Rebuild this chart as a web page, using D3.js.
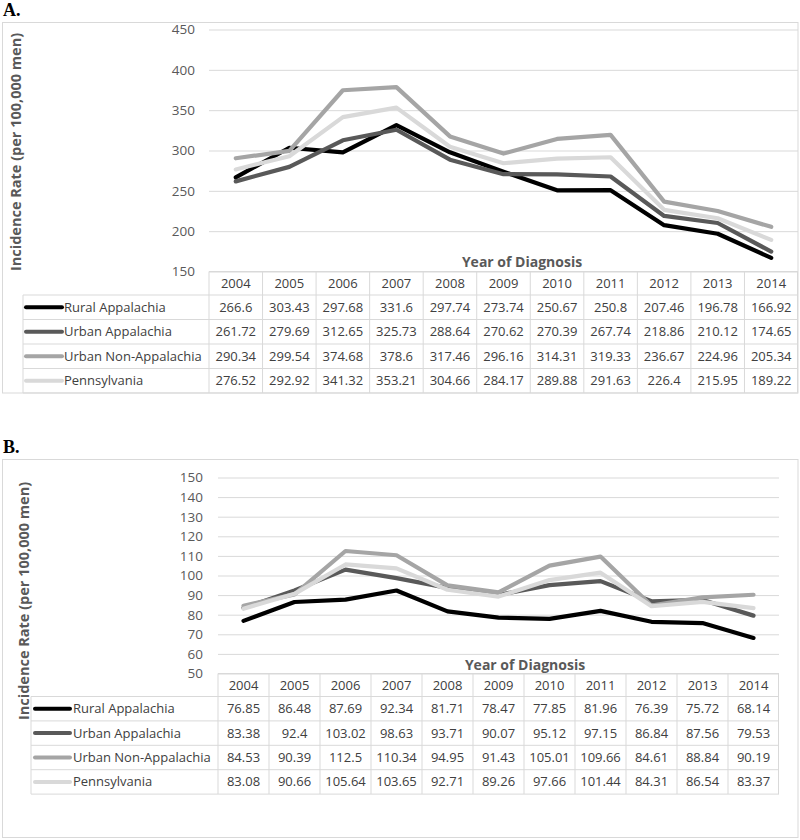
<!DOCTYPE html>
<html><head><meta charset="utf-8">
<script src="https://cdn.jsdelivr.net/npm/d3@7"></script>
<style>body{margin:0;background:#fff} svg{display:block}</style>
</head><body>
<svg id="chart" width="800" height="840"></svg>
<script>
// ---------- DATA ----------
const years = [2004, 2005, 2006, 2007, 2008, 2009, 2010, 2011, 2012, 2013, 2014];
const seriesNames = ["Rural Appalachia", "Urban Appalachia", "Urban Non-Appalachia", "Pennsylvania"];
const seriesColors = ["#000000", "#595959", "#a5a5a5", "#d9d9d9"];

// Panel A
const ruralA    = [266.6, 303.43, 297.68, 331.6, 297.74, 273.74, 250.67, 250.8, 207.46, 196.78, 166.92];
const urbanA    = [261.72, 279.69, 312.65, 325.73, 288.64, 270.62, 270.39, 267.74, 218.86, 210.12, 174.65];
const urbanNonA = [290.34, 299.54, 374.68, 378.6, 317.46, 296.16, 314.31, 319.33, 236.67, 224.96, 205.34];
const pennA     = [276.52, 292.92, 341.32, 353.21, 304.66, 284.17, 289.88, 291.63, 226.4, 215.95, 189.22];
const yTicksA   = [150, 200, 250, 300, 350, 400, 450];

// Panel B
const ruralB    = [76.85, 86.48, 87.69, 92.34, 81.71, 78.47, 77.85, 81.96, 76.39, 75.72, 68.14];
const urbanB    = [83.38, 92.4, 103.02, 98.63, 93.71, 90.07, 95.12, 97.15, 86.84, 87.56, 79.53];
const urbanNonB = [84.53, 90.39, 112.5, 110.34, 94.95, 91.43, 105.01, 109.66, 84.61, 88.84, 90.19];
const pennB     = [83.08, 90.66, 105.64, 103.65, 92.71, 89.26, 97.66, 101.44, 84.31, 86.54, 83.37];
const yTicksB   = [50, 60, 70, 80, 90, 100, 110, 120, 130, 140, 150];

const yTitle = "Incidence Rate (per 100,000 men)";
const xTitle = "Year of Diagnosis";

// ---------- LAYOUT ----------
const FONT = "'Open Sans', 'Noto Sans', sans-serif";
const panels = [
  {
    label: "A.", labelY: 16,
    box: {x: 2.5, y: 22.5, w: 795.5, h: 370.5},
    plotLeft: 209, plotRight: 798, yTop: 29.5, yBottom: 271.5,
    tickPad: 14, ticks: yTicksA,
    legendLeft: 23, lineX0: 26, lineX1: 62, textX: 64,
    headerBottom: 295, rowH: 24.5,
    xTitleX: 522, xTitleY: 267,
    yTitleX: 16, yTitleY: 152,
    series: [ruralA, urbanA, urbanNonA, pennA]
  },
  {
    label: "B.", labelY: 453,
    box: {x: 2.5, y: 459.5, w: 795.5, h: 378},
    plotLeft: 218, plotRight: 779, yTop: 477.5, yBottom: 673.5,
    tickPad: 15, ticks: yTicksB,
    legendLeft: 31, lineX0: 35, lineX1: 70, textX: 73,
    headerBottom: 696.5, rowH: 24.4,
    xTitleX: 525, xTitleY: 670,
    yTitleX: 24, yTitleY: 601,
    series: [ruralB, urbanB, urbanNonB, pennB]
  }
];

const svg = d3.select("#chart");
const GRID = "#d9d9d9";
const TXT = "#404040";
const AX = "#595959";

panels.forEach(p => {
  const g = svg.append("g");

  // panel label
  g.append("text").attr("x", 3).attr("y", p.labelY)
    .attr("font-family", "'Liberation Serif', 'DejaVu Serif', serif")
    .attr("font-weight", "bold").attr("font-size", 18).attr("fill", "#000")
    .text(p.label);

  // outer box
  g.append("rect").attr("x", p.box.x).attr("y", p.box.y)
    .attr("width", p.box.w).attr("height", p.box.h)
    .attr("fill", "none").attr("stroke", GRID).attr("stroke-width", 1);

  const x = d3.scaleBand().domain(years).range([p.plotLeft, p.plotRight]);
  const y = d3.scaleLinear().domain([d3.min(p.ticks), d3.max(p.ticks)]).range([p.yBottom, p.yTop]);

  // y axis with gridlines
  const yAxis = d3.axisLeft(y).tickValues(p.ticks)
    .tickSize(-(p.plotRight - p.plotLeft)).tickPadding(p.tickPad);
  const ag = g.append("g").attr("transform", `translate(${p.plotLeft},0)`).call(yAxis);
  ag.select(".domain").remove();
  ag.selectAll(".tick line").attr("stroke", GRID).attr("stroke-width", 1);
  ag.selectAll(".tick text").attr("fill", AX).attr("font-family", FONT).attr("font-size", 13.5);

  // lines
  const line = d3.line()
    .x((d, i) => x(years[i]) + x.bandwidth() / 2)
    .y(d => y(d));
  p.series.forEach((s, k) => {
    g.append("path").datum(s).attr("d", line)
      .attr("fill", "none").attr("stroke", seriesColors[k])
      .attr("stroke-width", 4.2).attr("stroke-linejoin", "round").attr("stroke-linecap", "round");
  });

  // x title
  g.append("text").attr("x", p.xTitleX).attr("y", p.xTitleY)
    .attr("text-anchor", "middle").attr("font-family", FONT)
    .attr("font-weight", "bold").attr("font-size", 14).attr("fill", AX)
    .text(xTitle);

  // y title
  g.append("text")
    .attr("transform", `translate(${p.yTitleX},${p.yTitleY}) rotate(-90)`)
    .attr("text-anchor", "middle").attr("dy", "0.35em").attr("font-family", FONT)
    .attr("font-weight", "bold").attr("font-size", 14.5).attr("fill", AX)
    .text(yTitle);

  // ---------- data table ----------
  const tg = g.append("g");
  const headerTop = p.yBottom;
  const nRows = seriesNames.length;
  const tableBottom = p.headerBottom + nRows * p.rowH;
  tg.append("line").attr("x1", p.plotLeft).attr("x2", p.plotRight)
    .attr("y1", headerTop).attr("y2", headerTop).attr("stroke", GRID);
  for (let r = 0; r <= nRows; r++) {
    const yy = p.headerBottom + r * p.rowH;
    tg.append("line").attr("x1", p.legendLeft).attr("x2", p.plotRight)
      .attr("y1", yy).attr("y2", yy).attr("stroke", GRID);
  }
  tg.append("line").attr("x1", p.legendLeft).attr("x2", p.legendLeft)
    .attr("y1", p.headerBottom).attr("y2", tableBottom).attr("stroke", GRID);
  years.forEach(yr => {
    const xx = x(yr);
    tg.append("line").attr("x1", xx).attr("x2", xx)
      .attr("y1", headerTop).attr("y2", tableBottom).attr("stroke", GRID);
  });
  tg.append("line").attr("x1", p.plotRight - 0.5).attr("x2", p.plotRight - 0.5)
    .attr("y1", headerTop).attr("y2", tableBottom).attr("stroke", GRID);

  tg.selectAll(".yr").data(years).enter().append("text")
    .attr("x", d => x(d) + x.bandwidth() / 2)
    .attr("y", (headerTop + p.headerBottom) / 2).attr("dy", "0.35em")
    .attr("text-anchor", "middle").attr("font-family", FONT).attr("font-size", 13)
    .attr("fill", TXT).text(d => d);

  seriesNames.forEach((name, k) => {
    const cy = p.headerBottom + k * p.rowH + p.rowH / 2;
    tg.append("line").attr("x1", p.lineX0).attr("x2", p.lineX1)
      .attr("y1", cy).attr("y2", cy).attr("stroke", seriesColors[k])
      .attr("stroke-width", 4).attr("stroke-linecap", "round");
    tg.append("text").attr("x", p.textX).attr("y", cy).attr("dy", "0.35em")
      .attr("font-family", FONT).attr("font-size", 13).attr("fill", TXT).text(name);
    tg.selectAll(null).data(p.series[k]).enter().append("text")
      .attr("x", (d, i) => x(years[i]) + x.bandwidth() / 2)
      .attr("y", cy).attr("dy", "0.35em")
      .attr("text-anchor", "middle").attr("font-family", FONT).attr("font-size", 13)
      .attr("fill", TXT).text(d => String(d));
  });
});
</script>
</body></html>
